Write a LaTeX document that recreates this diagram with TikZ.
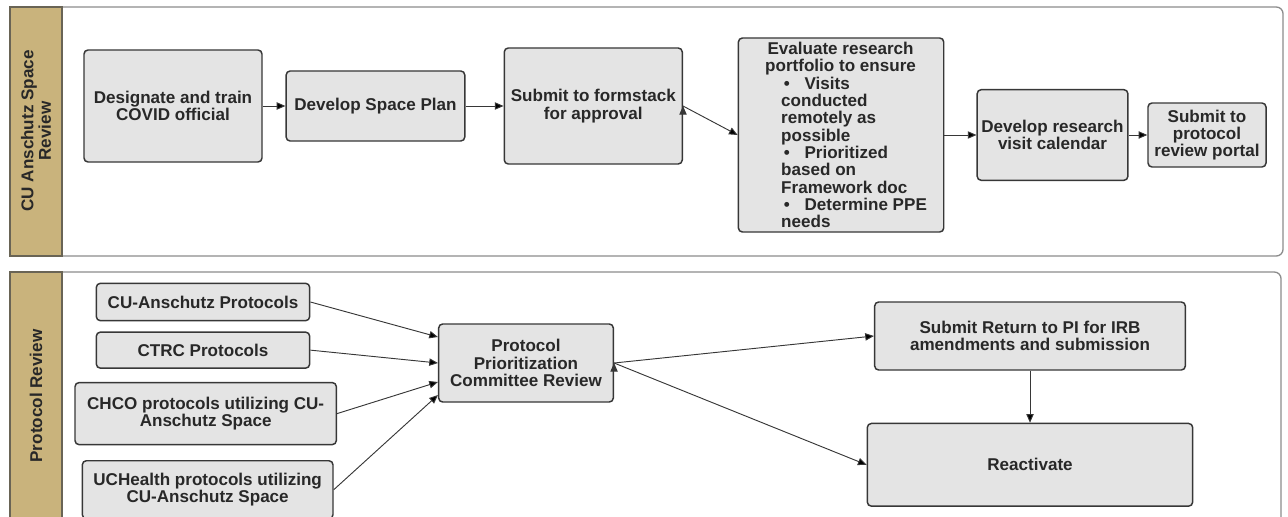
\documentclass[tikz,border=0pt]{standalone}
\usepackage{fontspec}
\setmainfont{Liberation Sans}
\usetikzlibrary{positioning,arrows.meta}

\definecolor{lanetan}{RGB}{201,179,124}
\definecolor{laneedge}{RGB}{140,140,140}
\definecolor{tagedge}{RGB}{105,100,85}
\definecolor{boxfill}{RGB}{228,228,228}
\definecolor{boxedge}{RGB}{55,55,55}
\definecolor{inktext}{RGB}{40,40,40}

\begin{document}
\begin{tikzpicture}[
	x = 0.75pt, y = -0.75pt, % work on the pixel grid
	> = {Triangle[length=6.5pt,width=5.5pt]}, % arrow head style
	node distance = 18pt, % distance between nodes
	semithick, % line style
	font = \bfseries\fontsize{12.8pt}{13pt}\selectfont
	]
	
	\tikzstyle{stepbox}=[
	draw = boxedge,
	line width = 1.1pt,
	fill = boxfill,
	rounded corners = 3pt,
	align = center,
	text = inktext,
	inner sep = 1pt
	]
	\tikzstyle{laneframe}=[draw = laneedge, line width = 1pt, rounded corners = 5pt]
	\tikzstyle{lanetag}=[draw = tagedge, fill = lanetan, line width = 1pt]
	\tikzstyle{flow}=[->, draw = boxedge, line width = 0.7pt]
	
	\useasboundingbox (0,0) rectangle (1288,517);
	
	% swim lanes
	\draw[laneframe] (10,7) rectangle (1283,256);
	\draw[lanetag] (10,7) rectangle (62,256);
	\node[rotate=90, align=center, text=inktext] (laneA) at (36,131) {CU Anschutz Space\\Review};
	\draw[laneframe] (10,272) rectangle (1281,530);
	\draw[lanetag] (10,272) rectangle (62,530);
	\node[rotate=90, text=inktext] (laneB) at (36,396) {Protocol Review};
	
	% space review lane
	\node[stepbox, minimum width=133.5pt, minimum height=84pt] (desig) at (173,106) {Designate and train\\COVID official};
	\node[stepbox, minimum width=134pt, minimum height=52.5pt] (plan) [right=17pt of desig] {Develop Space Plan};
	\node[stepbox, minimum width=133.5pt, minimum height=87pt] (formstack) [right=28.5pt of plan] {Submit to formstack\\for approval};
	\node[stepbox, align=left, minimum width=154pt, minimum height=145.5pt] (evaluate) [right=41pt of formstack, yshift=-21.75pt]
	{\makebox[128pt]{Evaluate research}\\
		\makebox[128pt]{portfolio to ensure}\\
		\hspace*{21.5pt}\textbullet\hspace{11pt}Visits\\
		\hspace*{19.5pt}conducted\\
		\hspace*{19.5pt}remotely as\\
		\hspace*{19.5pt}possible\\
		\hspace*{21.5pt}\textbullet\hspace{11pt}Prioritized\\
		\hspace*{19.5pt}based on\\
		\hspace*{19.5pt}Framework doc\\
		\hspace*{21.5pt}\textbullet\hspace{11pt}Determine PPE\\
		\hspace*{19.5pt}needs};
	\node[stepbox, minimum width=113pt, minimum height=68pt] (calendar) [right=24pt of evaluate] {Develop research\\visit calendar};
	\node[stepbox, minimum width=88.5pt, minimum height=48pt] (portal) [right=14pt of calendar] {Submit to\\protocol\\review portal};
	
	% protocol review lane
	\node[stepbox, minimum width=160pt, minimum height=28pt] (cuprot) at (203,302) {CU-Anschutz Protocols};
	\node[stepbox, minimum width=160pt, minimum height=27pt] (ctrc) [below=7.5pt of cuprot] {CTRC Protocols};
	\node[stepbox, minimum width=196pt, minimum height=46.5pt] (chco) [below=9.75pt of ctrc, xshift=2pt] {CHCO protocols utilizing CU-\\Anschutz Space};
	\node[stepbox, minimum width=188pt, minimum height=43.5pt] (uch) [below=11pt of chco, xshift=1.5pt] {UCHealth protocols utilizing\\CU-Anschutz Space};
	\node[stepbox, minimum width=131pt, minimum height=58.5pt] (prio) at (526,363) {Protocol\\Prioritization\\Committee Review};
	\node[stepbox, minimum width=233pt, minimum height=51pt] (ret) at (1030,336) {Submit Return to PI for IRB\\amendments and submission};
	\node[stepbox, minimum width=244pt, minimum height=62pt] (react) [below=39pt of ret] {Reactivate};
	
	\path[flow]
	(desig) edge (plan)
	(plan) edge (formstack)
	(formstack.east) edge (evaluate.west)
	(evaluate) edge (calendar)
	(calendar) edge (portal);
	
	\path[flow]
	(cuprot.east) edge ([yshift=19.5pt]prio.west)
	(ctrc.east) edge (prio.west)
	(chco.east) edge ([yshift=-14.25pt]prio.west)
	(uch.east) edge ([yshift=-24pt]prio.west)
	(prio.east) edge (ret.west)
	(prio.east) edge (react.west)
	(ret) edge (react);
	
\end{tikzpicture}
\end{document}
